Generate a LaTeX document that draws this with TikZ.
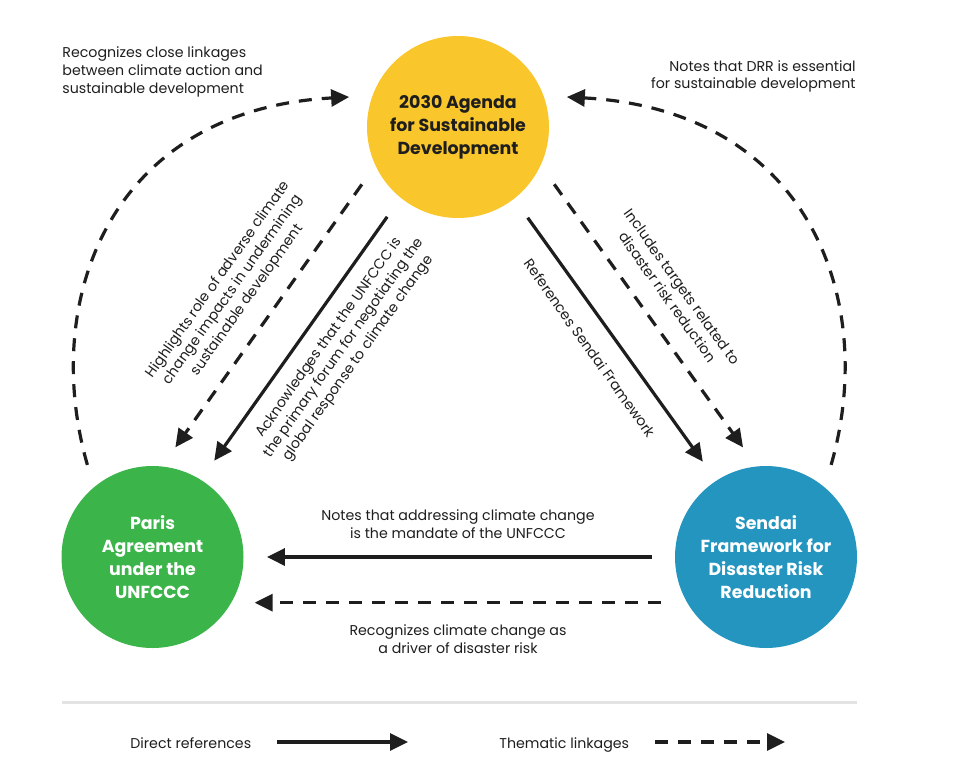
\documentclass[tikz,border=0pt]{standalone}
\usepackage{fontspec}
\setmainfont{Poppins}
\usepackage{tikz}
\usetikzlibrary{arrows.meta}
\definecolor{agendaFill}{HTML}{F9C62B}
\definecolor{parisFill}{HTML}{3BB44A}
\definecolor{sendaiFill}{HTML}{2495BF}
\definecolor{inkCol}{HTML}{1E1E1E}
\definecolor{ruleCol}{HTML}{E3E3E3}

\begin{document}
\begin{tikzpicture}[
  x=0.5pt, y=-0.5pt,
  font=\fontsize{7.1}{8.9}\selectfont,
  hub/.style={circle, minimum size=91pt, inner sep=0pt, align=center,
              font=\bfseries\fontsize{8.7}{11.5}\selectfont},
  direct/.style={-{Triangle[length=9pt,width=8.5pt]}, line width=1.6pt, draw=inkCol},
  thematic/.style={direct, dash pattern=on 6.5pt off 5pt},
  gap/.style={shorten <=11.5pt, shorten >=11.5pt},
  lbl/.style={text=inkCol, align=center, inner sep=0pt},
]

\useasboundingbox (0,0) rectangle (980,782);

% ---- Los tres marcos ----
\node[hub, fill=agendaFill, text=inkCol] (agenda) at (458,127) {2030 Agenda\\for Sustainable\\Development};
\node[hub, fill=parisFill, text=white]   (paris)  at (152.5,557) {Paris\\Agreement\\under the\\UNFCCC};
\node[hub, fill=sendaiFill, text=white]  (sendai) at (766,557) {Sendai\\Framework for\\Disaster Risk\\Reduction};

% ---- Agenda -> Paris ----
\draw[thematic, gap] (agenda.205) -- (paris.84);
\draw[direct, gap]   (agenda.231) -- (paris.58);

% ---- Agenda -> Sendai ----
\draw[direct, gap]   (agenda.308) -- (sendai.123);
\draw[thematic, gap] (agenda.335) -- (sendai.96);

% ---- Sendai -> Paris ----
\draw[direct, gap]   (sendai.180) -- (paris.0);
\draw[thematic, gap, shorten <=13pt] (sendai.210) -- (paris.330);

% ---- Arcos exteriores hacia la Agenda ----
\draw[thematic, gap] (paris.130) .. controls (40,300) and (110,110) .. (agenda.160);
\draw[thematic, gap] (sendai.50) .. controls (878.5,300) and (808.5,110) .. (agenda.20);

% ---- Etiquetas ----
\node[lbl, anchor=west, align=left]  (closeLbl) at (62,72) {Recognizes close linkages\\between climate action and\\sustainable development};
\node[lbl, anchor=east, align=right] (drrLbl)   at (856,76.5) {Notes that DRR is essential\\for sustainable development};
\node[lbl, rotate=54.6]  (highLbl) at (233,290) {Highlights role of adverse climate\\change impacts in undermining\\sustainable development};
\node[lbl, rotate=54.6]  (ackLbl)  at (344,348) {Acknowledges that the UNFCCC is\\the primary forum for negotiating the\\global response to climate change};
\node[lbl, rotate=-54.5] (inclLbl) at (675,292) {Includes targets related to\\disaster risk reduction};
\node[lbl, rotate=-54.5] (refLbl)  at (590,348) {References Sendai Framework};
\node[lbl] (mandLbl)  at (458,524) {Notes that addressing climate change\\is the mandate of the UNFCCC};
\node[lbl] (driverLbl) at (458,639) {Recognizes climate change as\\a driver of disaster risk};

% ---- Leyenda ----
\coordinate (ruleL) at (62,702);
\coordinate (ruleR) at (857,702);
\draw[ruleCol, line width=1.5pt] (ruleL) -- (ruleR);
\node[lbl, anchor=base west] (legDirect)   at (130,748) {Direct references};
\node[lbl, anchor=base west] (legThematic) at (499,748) {Thematic linkages};
\coordinate (dirA) at (277,742);
\coordinate (dirB) at (408,742);
\coordinate (themA) at (655,742);
\coordinate (themB) at (785,742);
\draw[direct]   (dirA) -- (dirB);
\draw[thematic] (themA) -- (themB);

\end{tikzpicture}
\end{document}
